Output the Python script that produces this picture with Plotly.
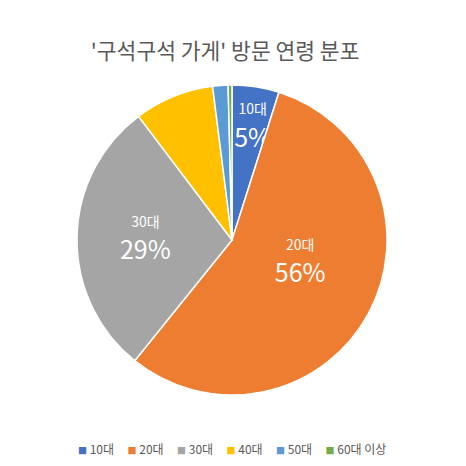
import plotly.graph_objects as go

labels = ["10대", "20대", "30대", "40대", "50대", "60대 이상"]
values = [4.9, 55.9, 28.9, 8.3, 1.6, 0.4]
colors = ["#4472C4", "#ED7D31", "#A5A5A5", "#FFC000", "#5B9BD5", "#70AD47"]

# label only on the big slices (small name on top, bigger percent below)
base = "<span style='font-size:14px'>%{label}</span><br>%{percent:.0%}"
nb = "\u00a0"
templates = [
    f"<span style='font-size:18px'>{nb}</span><br>" + base,   # push the thin slice label inward
    base + f"<br><span style='font-size:18px'>{nb}</span>",   # nudge up a little
    base,
    "", "", "",
]

fig = go.Figure(go.Pie(
    labels=labels,
    values=values,
    sort=False,
    direction="clockwise",
    rotation=0,
    marker=dict(colors=colors, line=dict(color="white", width=1.5)),
    texttemplate=templates,
    textposition="inside",
    insidetextorientation="horizontal",
    textfont=dict(family="Noto Sans CJK KR", size=25, color="white"),
    hoverinfo="label+percent",
    showlegend=False,
))

# compact excel-style legend row under the pie
sp = "\u00a0"
legend_txt = (sp * 5).join(
    f"<span style='color:{c};font-size:9px'>■</span>{sp}{l}" for l, c in zip(labels, colors)
)
fig.add_annotation(
    text=legend_txt, showarrow=False,
    xref="paper", yref="paper", x=0.5, y=-0.174,
    xanchor="center", yanchor="middle",
    font=dict(size=12, color="#595959"),
)

# page body adds an 8px offset, so the margins are shifted up/left by 8
fig.update_layout(
    width=466, height=466,
    paper_bgcolor="white", plot_bgcolor="white",
    margin=dict(l=69, r=87, t=77, b=79, autoexpand=False),
    font=dict(family="Noto Sans CJK KR", color="#595959"),
    title=dict(
        text="'구석구석 가게' 방문 연령 분포",
        x=0.466, xanchor="center", y=0.906, yanchor="middle",
        font=dict(size=21.5, color="#595959"),
    ),
    uniformtext=dict(minsize=25, mode="show"),
)

fig.write_html("out.html")
